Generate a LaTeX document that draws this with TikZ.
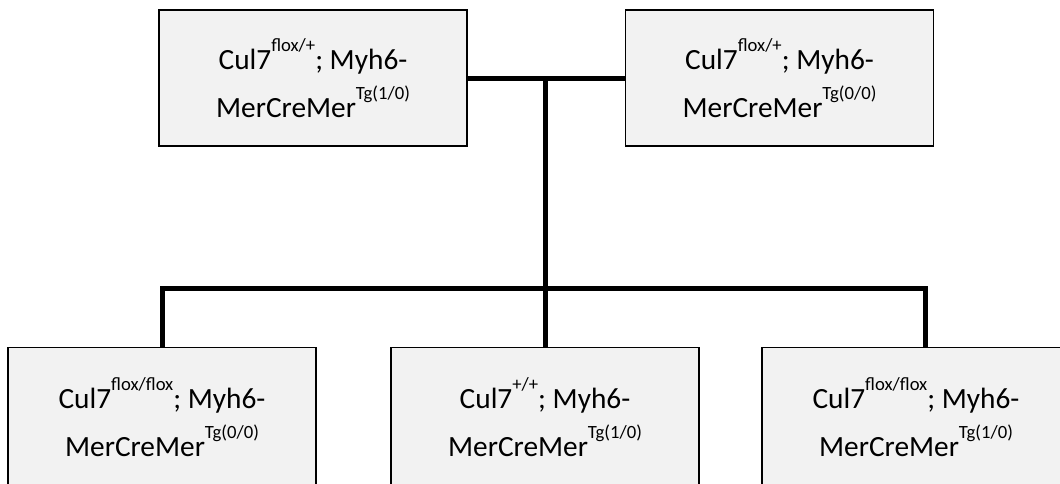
\documentclass[tikz,border=0pt]{standalone}
\usepackage{fontspec}
\setmainfont{Carlito}
\usetikzlibrary{positioning,calc}

\newcommand{\geno}[1]{\raisebox{13.5pt}{\fontsize{14}{14}\selectfont #1}}

\begin{document}
\begin{tikzpicture}[x=0.75pt,y=-0.75pt]
\tikzstyle{every node}+=[inner sep=0pt]
\tikzstyle{mouse}=[draw=black,line width=1pt,fill=black!5,minimum width=231pt,minimum height=102pt,align=center,font=\fontsize{22}{36}\selectfont]
\tikzstyle{pup}=[mouse,minimum height=105pt]
\tikzstyle{cross}=[line width=3.75pt]
\useasboundingbox (0,0) rectangle (1060,483);
\clip (0,0) rectangle (1060,483);
\node [mouse] (p1) at (313,78) {Cul7\geno{flox/+}; Myh6-\\MerCreMer\geno{Tg(1/0)}};
\node [mouse] (p2) at (779.5,78) {Cul7\geno{flox/+}; Myh6-\\MerCreMer\geno{Tg(0/0)}};
\node [pup] (o1) at (162,417.5) {Cul7\geno{flox/flox}; Myh6-\\MerCreMer\geno{Tg(0/0)}};
\node [pup] (o2) at (545,417.5) {Cul7\geno{+/+}; Myh6-\\MerCreMer\geno{Tg(1/0)}};
\node [pup] (o3) at (916,417.5) {Cul7\geno{flox/flox}; Myh6-\\MerCreMer\geno{Tg(1/0)}};
\coordinate (hub) at (o2 |- p1);
\coordinate (bar) at (545,288);
\coordinate (drop3) at ([xshift=6.75pt]o3.north);
\draw [cross] (p1) -- (p2);
\draw [cross] (hub) -- (o2);
\draw [cross] (o1) |- (bar) -| (drop3);
\end{tikzpicture}
\end{document}
